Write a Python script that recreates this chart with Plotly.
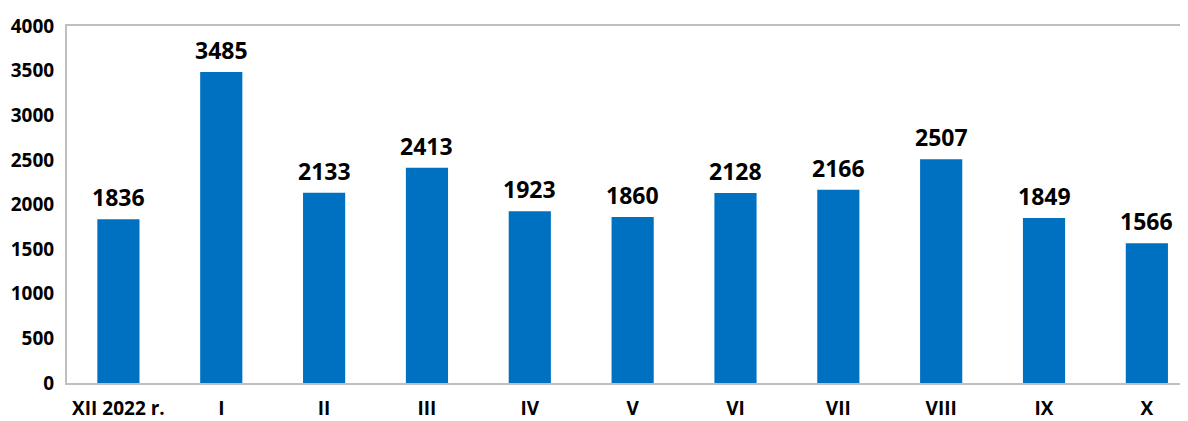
import plotly.graph_objects as go

categories = ["XII 2022 r.", "I", "II", "III", "IV", "V", "VI", "VII", "VIII", "IX", "X"]
values = [1836, 3485, 2133, 2413, 1923, 1860, 2128, 2166, 2507, 1849, 1566]
y_ticks = [0, 500, 1000, 1500, 2000, 2500, 3000, 3500, 4000]

font_family = "Open Sans, Liberation Sans, sans-serif"
x_pos = list(range(len(categories)))

fig = go.Figure(go.Bar(
    x=x_pos,
    y=values,
    width=0.41,
    marker=dict(color="#0070C0", line=dict(width=0)),
    hoverinfo="x+y",
))

for xi, v in zip(x_pos, values):
    fig.add_annotation(
        x=xi, y=v, text=str(v), showarrow=False,
        yanchor="bottom", yshift=4,
        font=dict(family=font_family, size=23, color="#000000", weight="bold"),
    )

fig.update_layout(
    width=1180, height=413,
    margin=dict(l=59, r=0, t=18, b=38),
    paper_bgcolor="white", plot_bgcolor="white",
    showlegend=False,
)
fig.update_xaxes(
    range=[-0.5, 10.4],
    tickvals=x_pos,
    ticktext=categories,
    tickfont=dict(family=font_family, size=19, color="#000000", weight="bold"),
    showline=True, linecolor="#BFBFBF", linewidth=2, mirror=True,
    ticks="", showgrid=False, zeroline=False,
    ticklabelstandoff=7,
)
fig.update_yaxes(
    range=[0, 4000],
    tickvals=y_ticks,
    tickfont=dict(family=font_family, size=19, color="#000000", weight="bold"),
    showline=True, linecolor="#BFBFBF", linewidth=2,
    ticks="", showgrid=False, zeroline=False,
    ticklabelstandoff=7,
)

fig.write_html("out.html")
